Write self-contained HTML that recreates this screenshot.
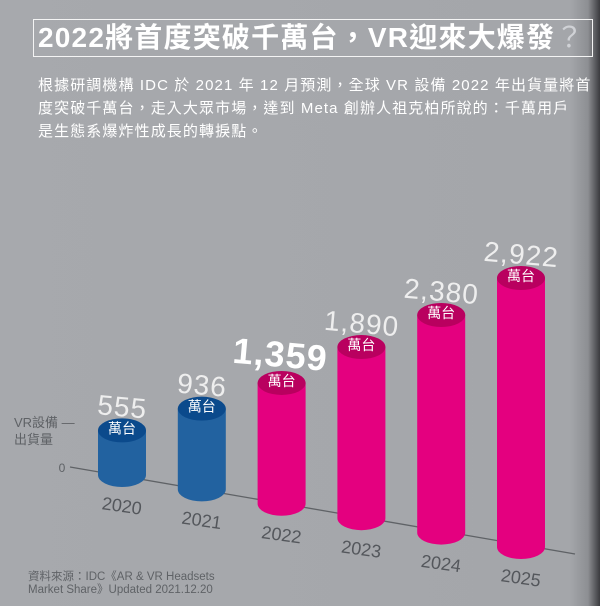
<!DOCTYPE html>
<html><head><meta charset="utf-8"><style>
html,body{margin:0;padding:0}
body{width:600px;height:606px;overflow:hidden;background:linear-gradient(90deg,#a7a9ad 0%,#a4a6aa 95%,#8d8f93 98%,#3a3a3e 100%);font-family:"Liberation Sans","Noto Sans CJK TC",sans-serif;position:relative}
.title{position:absolute;left:33px;top:19px;width:560px;height:38px;border:1.5px solid #f4f4f4;box-sizing:border-box;color:#fff;font-weight:bold;font-size:28px;line-height:36px;padding-left:4px;white-space:nowrap;letter-spacing:1.2px}
.body{position:absolute;left:38px;top:74px;width:560px;color:#fff;font-size:15px;line-height:23px;letter-spacing:1.1px;white-space:nowrap}
</style></head><body>
<div class="title">2022將首度突破千萬台，VR迎來大爆發<span style="color:#d0d2d6;font-weight:normal">？</span></div>
<div class="body">根據研調機構 IDC 於 2021 年 12 月預測，全球 VR 設備 2022 年出貨量將首<br>度突破千萬台，走入大眾市場，達到 Meta 創辦人祖克柏所說的：千萬用戶<br>是生態系爆炸性成長的轉捩點。</div>
<svg id="chart" width="600" height="606" style="position:absolute;left:0;top:0"></svg>
<script>
const categories=["2020","2021","2022","2023","2024","2025"];
const values=[555,936,1359,1890,2380,2922];
const valueLabels=["555","936","1,359","1,890","2,380","2,922"];
const actual=[true,true,false,false,false,false];
const NS="http://www.w3.org/2000/svg";
const svg=document.getElementById("chart");
function xPos(i){return 122+i*79.8;}
function baseY(i){return 475+i*14.4;}
function hScale(v){return 0.0948*v-8;}
function mk(tag,attrs,parent){const e=document.createElementNS(NS,tag);for(const k in attrs)e.setAttribute(k,attrs[k]);(parent||svg).appendChild(e);return e;}
const axis=mk("line",{x1:70,y1:467,x2:575,y2:554,stroke:"#5f6266","stroke-width":1.3});


const zero=mk("text",{x:62,y:472,"font-size":12,fill:"#5f6266","text-anchor":"middle"});
zero.textContent="0";


const yt=mk("text",{x:14,y:427,"font-size":13,fill:"#5f6266"});
yt.innerHTML='<tspan x="14">VR設備 —</tspan><tspan x="14" dy="17">出貨量</tspan>';


const rx=24,ry=12;
categories.forEach((c,i)=>{
  const cx=xPos(i),by=baseY(i),h=hScale(values[i]),ty=by-h;
  const side=actual[i]?"#2262a0":"#e4007f",top=actual[i]?"#0b4a8c":"#b9005f";
  const g=mk("g",{});
  
  
  mk("path",{d:`M${cx-rx},${ty} L${cx-rx},${by} A${rx},${ry} 0 0 0 ${cx+rx},${by} L${cx+rx},${ty} Z`,fill:side},g);
  mk("ellipse",{cx:cx,cy:ty,rx:rx,ry:ry,fill:top},g);
  const u=mk("text",{x:cx,y:ty+3,"font-size":14,fill:"#fff","text-anchor":"middle"},g);
  u.textContent="萬台";
  
  
  const big=i===2;
  const vl=mk("text",{x:cx+(big?-2:0),y:ty-(big?16:14),"font-size":big?36:28,"font-weight":big?"bold":"normal",fill:big?"#ffffff":"#eeeeee","text-anchor":"middle","letter-spacing":1,transform:`rotate(5 ${cx} ${ty-20})`},g);
  vl.textContent=valueLabels[i];
  
  
  const yl=mk("text",{x:cx,y:by+37,"font-size":18,fill:"#54575c","text-anchor":"middle",transform:`rotate(8 ${cx} ${by+30})`});
  yl.textContent=c;
  
  
});
const src=mk("text",{x:28,y:580,"font-size":11.5,fill:"#5f6266"});
src.innerHTML='<tspan x="28">資料來源：IDC《AR &amp; VR Headsets</tspan><tspan x="28" dy="13">Market Share》Updated 2021.12.20</tspan>';


</script>
</body></html>
